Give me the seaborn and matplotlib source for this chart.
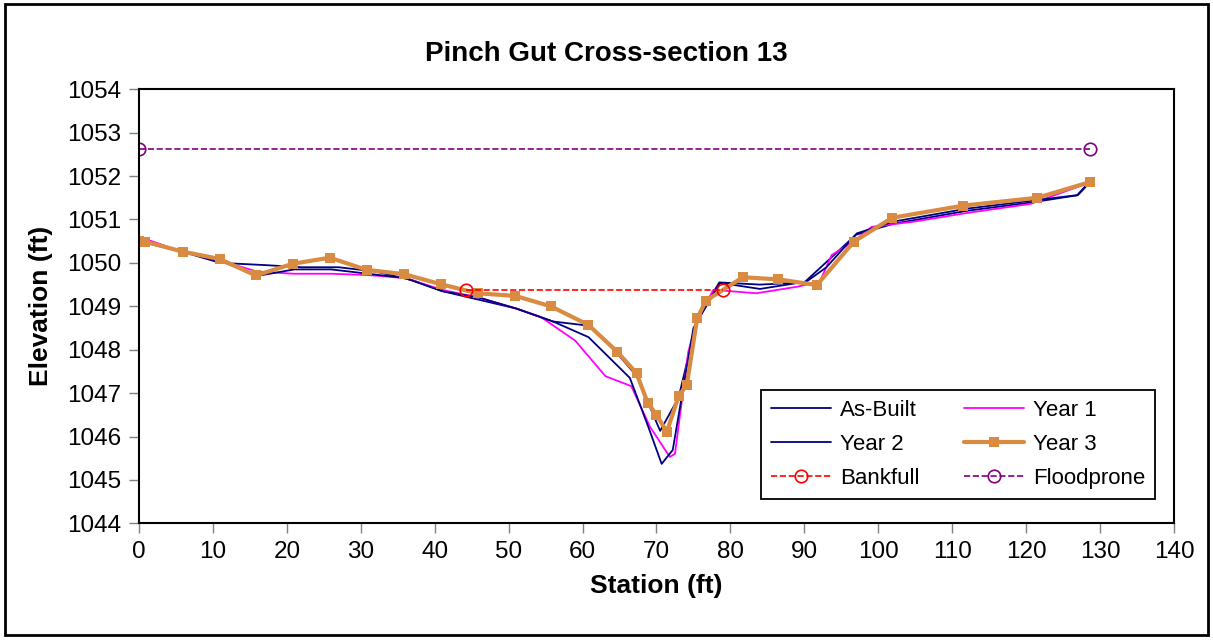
import numpy as np
import pandas as pd
import seaborn as sns
import matplotlib.pyplot as plt
from matplotlib.patches import Rectangle

# valores
asbuilt_x = [0, 6, 11, 17, 22, 27, 32, 37, 41, 46, 51, 56, 61, 64.5, 67.3, 70.5, 73, 75.5, 78.5, 84, 90, 93.5, 97, 102, 112, 121, 127, 128.6]
asbuilt_y = [1050.55, 1050.25, 1050.0, 1049.95, 1049.9, 1049.9, 1049.8, 1049.6, 1049.35, 1049.15, 1048.95, 1048.65, 1048.55, 1047.95,
             1047.4, 1046.13, 1046.9, 1048.7, 1049.55, 1049.5, 1049.55, 1050.1, 1050.65, 1050.9, 1051.2, 1051.4, 1051.56, 1051.85]

year1_x = [0, 6, 11, 16, 21, 26, 31, 36, 41, 46, 51, 54.3, 59.0, 63.1, 66.6, 69.1, 71.8, 72.5, 74.3, 75.5, 77.7, 83.5, 89,
           92.1, 93.7, 96.7, 99.1, 104.8, 112, 120.6, 128.6]
year1_y = [1050.6, 1050.25, 1050.05, 1049.8, 1049.75, 1049.75, 1049.72, 1049.65, 1049.38, 1049.2, 1048.95, 1048.76, 1048.21,
           1047.39, 1047.16, 1046.23, 1045.53, 1045.6, 1047.95, 1048.7, 1049.38, 1049.3, 1049.45, 1049.57, 1050.18, 1050.5,
           1050.83, 1050.95, 1051.15, 1051.36, 1051.85]

year2_x = [0, 6, 11, 16, 21, 26, 31, 36, 41, 46, 51, 56, 60.8, 66.4, 68.9, 70.7, 72.2, 75, 78.6, 84, 90.3, 93, 97.1, 102,
           112, 121.5, 126.9, 128.2]
year2_y = [1050.5, 1050.25, 1050.05, 1049.7, 1049.85, 1049.85, 1049.75, 1049.65, 1049.35, 1049.2, 1048.95, 1048.65, 1048.29,
           1047.35, 1046.22, 1045.37, 1045.69, 1048.5, 1049.54, 1049.4, 1049.57, 1049.9, 1050.68, 1050.95, 1051.25, 1051.45,
           1051.56, 1051.8]

year3_x = [0, 0.8, 5.9, 10.9, 15.8, 20.8, 25.8, 30.8, 35.9, 40.8, 45.8, 50.9, 55.7, 60.8, 64.7, 67.3, 68.8, 70.0, 71.4,
           73.0, 74.1, 75.5, 76.7, 81.7, 86.5, 91.7, 96.7, 101.9, 111.5, 121.5, 128.6]
year3_y = [1050.5, 1050.49, 1050.26, 1050.09, 1049.71, 1049.98, 1050.12, 1049.84, 1049.74, 1049.51, 1049.3, 1049.24, 1049.0,
           1048.57, 1047.95, 1047.46, 1046.78, 1046.5, 1046.11, 1046.93, 1047.19, 1048.72, 1049.13, 1049.67, 1049.62,
           1049.49, 1050.49, 1051.04, 1051.32, 1051.5, 1051.86]

bankfull_x = [44.3, 79.0]
bankfull_y = [1049.38, 1049.38]
flood_x = [0, 128.6]
flood_y = [1052.62, 1052.62]

x_ticks = list(range(0, 141, 10))
y_ticks = list(range(1044, 1055, 1))

sns.set_style('white')
plt.rcParams['font.family'] = ['Liberation Sans', 'DejaVu Sans']
plt.rcParams['text.color'] = 'black'
plt.rcParams['axes.labelcolor'] = 'black'

fig = plt.figure(figsize=(12.13, 6.4), dpi=100)
ax = fig.add_axes([0.1146, 0.1823, 0.8532, 0.6782])

sns.lineplot(x=asbuilt_x, y=asbuilt_y, sort=False, estimator=None, color='#000080', linewidth=1.3, label='As-Built', ax=ax)
sns.lineplot(x=year1_x, y=year1_y, sort=False, estimator=None, color='#FF00FF', linewidth=1.3, label='Year 1', ax=ax)
sns.lineplot(x=year2_x, y=year2_y, sort=False, estimator=None, color='#000080', linewidth=1.3, label='Year 2', ax=ax)
sns.lineplot(x=year3_x, y=year3_y, sort=False, estimator=None, color='#D98B42', linewidth=3, marker='s',
             markersize=7, markeredgewidth=0, label='Year 3', ax=ax)
sns.lineplot(x=bankfull_x, y=bankfull_y, sort=False, estimator=None, color='red', linewidth=1.2, linestyle='--',
             marker='o', markersize=9, markerfacecolor='none', markeredgecolor='red', markeredgewidth=1.2,
             label='Bankfull', ax=ax)
sns.lineplot(x=flood_x, y=flood_y, sort=False, estimator=None, color='#800080', linewidth=1.2, linestyle='--',
             marker='o', markersize=9, markerfacecolor='none', markeredgecolor='#800080', markeredgewidth=1.2,
             label='Floodprone', ax=ax)

ax.set_xlim(0, 140)
ax.set_ylim(1044, 1054)
ax.set_xticks(x_ticks)
ax.set_yticks(y_ticks)
ax.tick_params(axis='both', which='major', labelsize=17.5, length=7, width=1, color='#808080', labelcolor='black',
               direction='out', bottom=True, left=True, pad=6)
for s in ax.spines.values():
    s.set_color('black')
    s.set_linewidth(1.5)

ax.set_xlabel('Station (ft)', fontsize=19, fontweight='bold', labelpad=8)
ax.set_ylabel('Elevation (ft)', fontsize=19, fontweight='bold', labelpad=10)
fig.text(0.5, 0.915, 'Pinch Gut Cross-section 13', fontsize=20, fontweight='bold', ha='center', va='center')

# ordem por linhas, como no original
handles, labels = ax.get_legend_handles_labels()
order = [0, 2, 4, 1, 3, 5]
leg = ax.legend([handles[i] for i in order], [labels[i] for i in order], loc='lower right', ncol=2, fontsize=16,
                frameon=True, fancybox=False, framealpha=1, edgecolor='black', handlelength=2.7,
                handletextpad=0.4, columnspacing=2.0, labelspacing=0.6, borderpad=0.45,
                bbox_to_anchor=(0.9925, 0.03))
leg.get_frame().set_linewidth(1.3)

fig.patches.append(Rectangle((0.004, 0.008), 0.992, 0.985, transform=fig.transFigure, fill=False,
                             edgecolor='black', linewidth=2))

plt.savefig('out.png', dpi=100)
